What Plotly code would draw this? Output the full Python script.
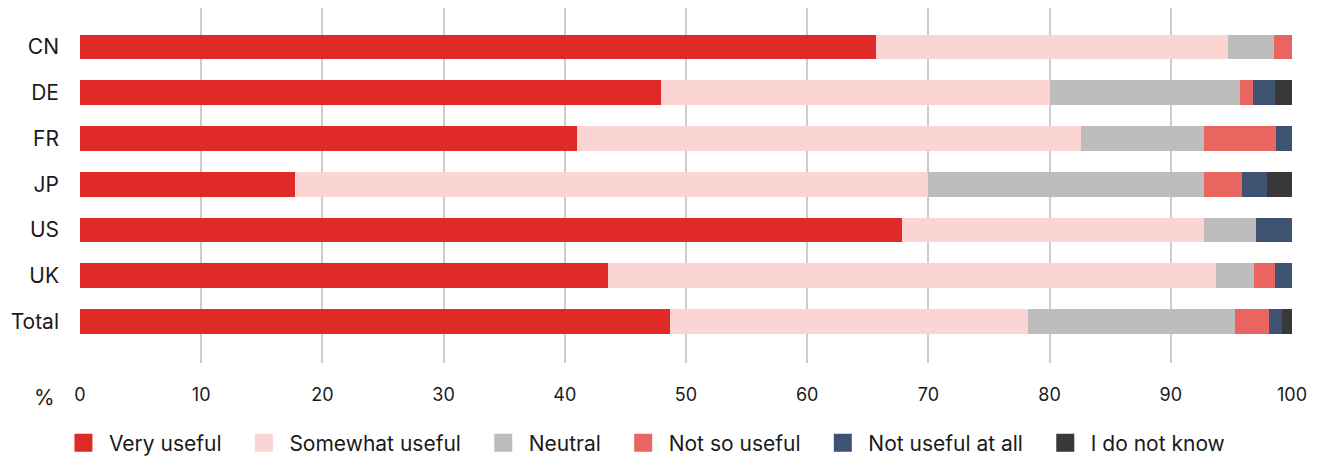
import plotly.graph_objects as go

categories = ["CN", "DE", "FR", "JP", "US", "UK", "Total"]
very_useful = [65.7, 47.9, 41.0, 17.7, 67.8, 43.6, 48.7]
somewhat_useful = [29.0, 32.1, 41.6, 52.3, 24.9, 50.1, 29.5]
neutral = [3.8, 15.7, 10.1, 22.7, 4.3, 3.2, 17.1]
not_so_useful = [1.5, 1.1, 6.0, 3.2, 0.0, 1.7, 2.8]
not_useful_at_all = [0.0, 1.8, 1.3, 2.0, 3.0, 1.4, 1.1]
do_not_know = [0.0, 1.4, 0.0, 2.1, 0.0, 0.0, 0.8]

series_names = ["Very useful", "Somewhat useful", "Neutral", "Not so useful",
                "Not useful at all", "I do not know"]
series_values = [very_useful, somewhat_useful, neutral, not_so_useful,
                 not_useful_at_all, do_not_know]
colors = ["#E02A27", "#FBD5D3", "#BDBDBD", "#E96560", "#3E5371", "#383838"]

x_ticks = list(range(0, 101, 10))

FONT = "Inter"
TEXT = "#1a1a1a"
PAD = "\u00a0\u00a0"

fig = go.Figure()
for name, vals, col in zip(series_names, series_values, colors):
    fig.add_trace(go.Bar(
        y=categories, x=vals, name=name, orientation="h",
        marker=dict(color=col, line=dict(width=0)),
        width=0.54, showlegend=False, hoverinfo="x+name",
    ))
for name, col in zip(series_names, colors):
    fig.add_trace(go.Scatter(
        x=[None], y=[None], mode="markers", name=name + PAD,
        marker=dict(symbol="square", size=18, color=col, line=dict(color=col, width=2)),
        showlegend=True,
    ))

fig.update_layout(
    width=1320, height=457,
    barmode="stack",
    plot_bgcolor="white", paper_bgcolor="white",
    margin=dict(l=80, r=28, t=8, b=94, pad=0, autoexpand=False),
    font=dict(family=FONT, color=TEXT, size=20),
    xaxis=dict(
        range=[0, 100], tickvals=x_ticks, ticktext=[str(v) for v in x_ticks],
        showgrid=True, gridcolor="#CCCCCC", gridwidth=1.5,
        zeroline=False, showline=False, ticks="",
        tickfont=dict(size=18, family=FONT, color=TEXT),
        ticklabelstandoff=19, fixedrange=True, automargin=False,
    ),
    yaxis=dict(
        categoryorder="array", categoryarray=categories,
        range=[6.912, -0.853],
        showgrid=False, zeroline=False, showline=False, ticks="",
        tickfont=dict(size=21, family=FONT, color=TEXT),
        ticklabelstandoff=20, fixedrange=True, automargin=False,
    ),
    legend=dict(
        orientation="h", x=0.0439, xanchor="left", xref="container",
        y=0.0306, yanchor="middle", yref="container",
        font=dict(size=21, family=FONT, color=TEXT),
        itemwidth=41, traceorder="normal",
        bgcolor="rgba(0,0,0,0)", borderwidth=0,
    ),
    annotations=[dict(
        text="%", xref="paper", yref="paper", x=-0.019, y=-0.0958,
        xanchor="right", yanchor="middle", showarrow=False,
        font=dict(size=21, family=FONT, color=TEXT),
    )],
)

fig.write_html("out.html")
